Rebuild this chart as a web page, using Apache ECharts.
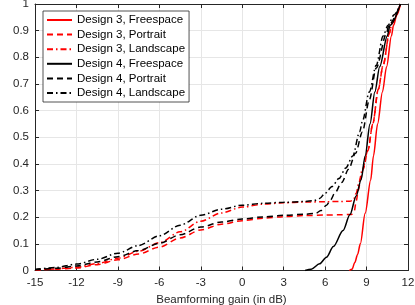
<!DOCTYPE html>
<html>
<head>
<meta charset="utf-8">
<script src="https://cdn.jsdelivr.net/npm/echarts@6/dist/echarts.min.js"></script>
<style>html,body{margin:0;padding:0;background:#fff}#c{width:415px;height:305px}</style>
</head>
<body>
<div id="c"></div>
<script>
// Data: [gain in dB, CDF]
var seriesNames = ['Design 3, Freespace','Design 3, Portrait','Design 3, Landscape','Design 4, Freespace','Design 4, Portrait','Design 4, Landscape'];
var xTicks = [-15,-12,-9,-6,-3,0,3,6,9,12];
var yTicks = [0,0.1,0.2,0.3,0.4,0.5,0.6,0.7,0.8,0.9,1];

var d3Free = [[7.75,0],[7.95,0.005],[8.15,0.03],[8.35,0.06],[8.55,0.1],[8.9,0.215],[9.3,0.34],[9.5,0.43],[9.8,0.55],[10.15,0.67],[10.45,0.765],[10.8,0.88],[10.95,0.92],[11.2,0.96],[11.45,1.0]];
var d3Port = [[-15,0.002],[-13.5,0.005],[-12,0.009],[-10.5,0.022],[-9,0.04],[-7.5,0.062],[-6,0.088],[-4.5,0.122],[-3,0.152],[-1.5,0.174],[0,0.187],[1.5,0.196],[3,0.202],[4.5,0.206],[6,0.208],[7,0.209],[7.9,0.21],[8.1,0.22],[8.25,0.26],[8.4,0.3],[8.6,0.35],[8.75,0.38],[9.1,0.45],[9.45,0.55],[9.85,0.68],[10.2,0.77],[10.65,0.89],[10.85,0.93],[11.45,1.0]];
var d3Land = [[-15,0.002],[-13.5,0.006],[-12,0.012],[-10.5,0.026],[-9,0.046],[-7.5,0.072],[-6,0.104],[-4.5,0.145],[-3,0.185],[-1.5,0.216],[0,0.238],[1.5,0.249],[3,0.254],[4.5,0.257],[6,0.258],[7,0.259],[7.8,0.26],[8.05,0.265],[8.25,0.29],[8.45,0.33],[8.7,0.38],[9.1,0.45],[9.45,0.55],[9.85,0.68],[10.2,0.77],[10.65,0.89],[10.85,0.93],[11.45,1.0]];
var d4Free = [[4.55,0],[5.0,0.005],[5.6,0.025],[6.1,0.05],[6.6,0.09],[7.3,0.15],[7.8,0.21],[8.25,0.28],[8.6,0.34],[8.9,0.43],[9.25,0.55],[9.6,0.67],[9.95,0.765],[10.5,0.88],[10.7,0.92],[11.45,1.0]];
var d4Port = [[-15,0.003],[-13.5,0.008],[-12,0.017],[-10.5,0.032],[-9,0.052],[-7.5,0.075],[-6,0.102],[-4.5,0.134],[-3,0.163],[-1.5,0.182],[0,0.193],[1.5,0.201],[3,0.207],[4.5,0.211],[5.3,0.214],[5.7,0.225],[6.1,0.245],[6.4,0.265],[6.7,0.29],[7.2,0.33],[7.7,0.38],[8.2,0.44],[8.7,0.52],[9.2,0.64],[9.7,0.76],[10.45,0.89],[10.6,0.92],[11.45,1.0]];
var d4Land = [[-15,0.004],[-13.5,0.011],[-12,0.024],[-10.5,0.042],[-9,0.065],[-7.5,0.094],[-6,0.13],[-4.5,0.17],[-3,0.207],[-1.5,0.23],[0,0.245],[1.5,0.252],[3,0.256],[4.5,0.259],[5.2,0.262],[5.6,0.27],[6.0,0.29],[6.5,0.315],[7.0,0.345],[7.5,0.385],[8.0,0.43],[8.5,0.52],[8.7,0.56],[9.2,0.67],[9.7,0.77],[10.2,0.88],[10.55,0.92],[11.0,0.96],[11.45,1.0]];

var dataSets = [d3Free, d3Port, d3Land, d4Free, d4Port, d4Land];
var colors = ['#ff0000','#ff0000','#ff0000','#000000','#000000','#000000'];
var dashSolid = 'solid', dashDash = [6,4], dashDot = [6,3,1.5,3];
var types = [dashSolid, dashDash, dashDot, dashSolid, dashDash, dashDot];

var font = 'Liberation Sans, Arial, Helvetica, sans-serif';
var axisCol = '#262626';
var chart = echarts.init(document.getElementById('c'), null, {renderer: 'canvas'});

function fmt(v){ return String(Math.round(v*10)/10); }

var series = seriesNames.map(function(n, i){
  return {
    name: n, type: 'line', data: dataSets[i], showSymbol: false, symbol: 'none',
    smooth: 0.3, smoothMonotone: 'x', xAxisIndex: 0, yAxisIndex: 0,
    lineStyle: {color: colors[i], width: 1.5, type: types[i]},
    itemStyle: {color: colors[i]},
    animation: false, z: 3
  };
});

chart.setOption({
  animation: false,
  backgroundColor: '#fff',
  grid: {left: 35, right: 7, top: 4, bottom: 34.5, containLabel: false, outerBoundsMode: 'none'},
  legend: {
    orient: 'vertical', left: 43, top: 11,
    padding: [2, 4, 2, 3],
    backgroundColor: '#fff', borderColor: axisCol, borderWidth: 0.8,
    itemWidth: 25, itemHeight: 14, itemGap: 0.6,
    itemStyle: {opacity: 0, borderWidth: 0},
    textStyle: {fontFamily: font, fontSize: 11.5, color: '#000', lineHeight: 14},
    data: seriesNames
  },
  xAxis: [{
    type: 'value', min: -15, max: 12, interval: 3, position: 'bottom',
    name: 'Beamforming gain (in dB)', nameLocation: 'middle', nameGap: 18,
    nameTextStyle: {fontFamily: font, fontSize: 11.5, color: axisCol},
    axisLine: {show: true, onZero: false, lineStyle: {color: axisCol, width: 1}},
    axisTick: {show: true, inside: true, length: 4, lineStyle: {color: axisCol}},
    axisLabel: {fontFamily: font, fontSize: 11.5, color: axisCol, margin: 6, formatter: fmt},
    splitLine: {show: true, lineStyle: {color: '#e6e6e6', width: 1}}
  },{
    type: 'value', min: -15, max: 12, interval: 3, position: 'top',
    axisLine: {show: true, onZero: false, lineStyle: {color: axisCol, width: 1}},
    axisTick: {show: true, inside: true, length: 4, lineStyle: {color: axisCol}},
    axisLabel: {show: false}, splitLine: {show: false}
  }],
  yAxis: [{
    type: 'value', min: 0, max: 1, interval: 0.1, position: 'left',
    name: 'CDF', nameLocation: 'middle', nameGap: 23,
    nameTextStyle: {fontFamily: font, fontSize: 11.5, color: axisCol},
    axisLine: {show: true, onZero: false, lineStyle: {color: axisCol, width: 1}},
    axisTick: {show: true, inside: true, length: 4, lineStyle: {color: axisCol}},
    axisLabel: {fontFamily: font, fontSize: 11.5, color: axisCol, margin: 6, formatter: fmt},
    splitLine: {show: true, lineStyle: {color: '#e6e6e6', width: 1}}
  },{
    type: 'value', min: 0, max: 1, interval: 0.1, position: 'right',
    axisLine: {show: true, onZero: false, lineStyle: {color: axisCol, width: 1}},
    axisTick: {show: true, inside: true, length: 4, lineStyle: {color: axisCol}},
    axisLabel: {show: false}, splitLine: {show: false}
  }],
  series: series
});
</script>
</body>
</html>
